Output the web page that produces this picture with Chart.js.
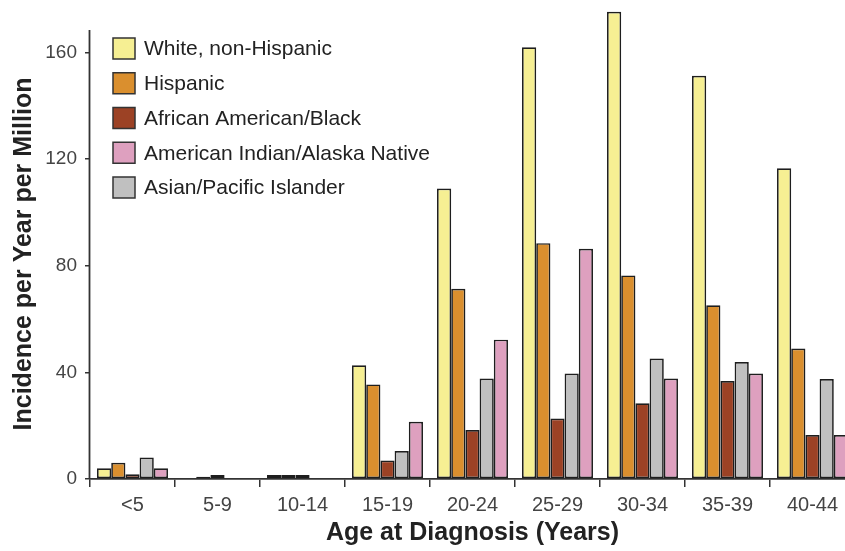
<!DOCTYPE html>
<html>
<head>
<meta charset="utf-8">
<script src="https://cdn.jsdelivr.net/npm/chart.js@4"></script>
<style>
  html, body { margin: 0; padding: 0; background: #fff; overflow: hidden; }
  #grafico { display: block; }
</style>
</head>
<body>
<canvas id="grafico" width="860" height="551"></canvas>
<script>
// Dados
const faixasEtarias = ['<5', '5-9', '10-14', '15-19', '20-24', '25-29', '30-34', '35-39', '40-44'];
const brancos      = [4.0, 0, 1.5, 42.7, 109, 162, 175.3, 151.3, 116.6];
const hispanicos   = [6.1, 0.8, 1.5, 35.5, 71.4, 88.5, 76.4, 65.2, 49];
const negros       = [1.8, 1.5, 1.5, 6.9, 18.4, 22.7, 28.4, 36.8, 16.5];
const asiaticos    = [8.1, 0, 0, 10.5, 37.7, 39.6, 45.2, 43.9, 37.5];
const indigenas    = [4.0, 0, 0, 21.5, 52.3, 86.4, 37.7, 39.6, 16.5];
const ticksY = [0, 40, 80, 120, 160];

const tituloY = 'Incidence per Year per Million';
const tituloX = 'Age at Diagnosis (Years)';

// ordem das barras no grupo difere da ordem da legenda
const ordemLegenda = [0, 1, 2, 4, 3];

const fonte = '"Liberation Sans", Arial, Helvetica, sans-serif';

function serie(label, data, cor) {
  return {
    label, data,
    backgroundColor: cor,
    borderColor: '#1e1e1e',
    borderWidth: 1.7,
    borderSkipped: false,
    categoryPercentage: 0.835,
    barPercentage: 1,
    clip: false
  };
}

// Legenda desenhada dentro da área do gráfico
const legendaInterna = {
  id: 'legendaInterna',
  afterDraw(chart) {
    const ctx = chart.ctx;
    ctx.save();
    ctx.font = '21px ' + fonte;
    ctx.textBaseline = 'middle';
    ordemLegenda.forEach((idx, i) => {
      const ds = chart.data.datasets[idx];
      const yc = 48.5 + i * 34.75;
      ctx.fillStyle = ds.backgroundColor;
      ctx.fillRect(113, yc - 10.5, 22, 21);
      ctx.strokeStyle = '#333';
      ctx.lineWidth = 1.5;
      ctx.strokeRect(113, yc - 10.5, 22, 21);
      ctx.fillStyle = '#222';
      ctx.fillText(ds.label, 144, yc + 1);
    });
    ctx.restore();
  }
};

// Eixo Y curto e título rotacionado
const eixoY = {
  id: 'eixoY',
  afterDraw(chart) {
    const ctx = chart.ctx;
    const y = chart.scales.y;
    const x0 = chart.chartArea.left - 0.5;
    ctx.save();
    ctx.strokeStyle = '#333';
    ctx.lineWidth = 1.8;
    ctx.beginPath();
    ctx.moveTo(x0, y.getPixelForValue(0));
    ctx.lineTo(x0, y.getPixelForValue(168.5));
    ctx.stroke();

    ctx.translate(24, 254);
    ctx.rotate(-Math.PI / 2);
    ctx.font = 'bold 25px ' + fonte;
    ctx.fillStyle = '#222';
    ctx.textAlign = 'center';
    ctx.textBaseline = 'middle';
    ctx.fillText(tituloY, 0, 0);
    ctx.restore();
  }
};

new Chart(document.getElementById('grafico'), {
  type: 'bar',
  data: {
    labels: faixasEtarias,
    datasets: [
      serie('White, non-Hispanic', brancos, '#f6ef93'),
      serie('Hispanic', hispanicos, '#da8f2e'),
      serie('African American/Black', negros, '#9c4225'),
      serie('Asian/Pacific Islander', asiaticos, '#c0c0c0'),
      serie('American Indian/Alaska Native', indigenas, '#dea0bf')
    ]
  },
  options: {
    responsive: false,
    animation: false,
    layout: { padding: { top: 10, right: 5, bottom: 0, left: 0 } },
    plugins: {
      legend: { display: false },
      tooltip: { enabled: false }
    },
    scales: {
      x: {
        grid: { drawOnChartArea: false, drawTicks: true, tickLength: 8, color: '#333', lineWidth: 1.5, offset: true },
        border: { display: true, color: '#333', width: 1.8 },
        ticks: { color: '#444', font: { family: fonte, size: 20 }, padding: 6, maxRotation: 0, autoSkip: false },
        title: { display: true, text: tituloX, color: '#222', font: { family: fonte, size: 25, weight: 'bold' }, padding: { top: 0, bottom: 3 } },
        afterFit(scale) { scale.height = 72; }
      },
      y: {
        min: 0,
        max: 176,
        grid: { drawOnChartArea: false, drawTicks: true, tickLength: 5, color: '#333', lineWidth: 1.5 },
        border: { display: false },
        ticks: { color: '#444', font: { family: fonte, size: 19 }, padding: 8 },
        afterBuildTicks(scale) { scale.ticks = ticksY.map(v => ({ value: v })); },
        afterFit(scale) {
          scale.width = 90;
          scale.paddingTop = 0;
          scale.paddingBottom = 0;
        }
      }
    }
  },
  plugins: [legendaInterna, eixoY]
});
</script>
</body>
</html>
